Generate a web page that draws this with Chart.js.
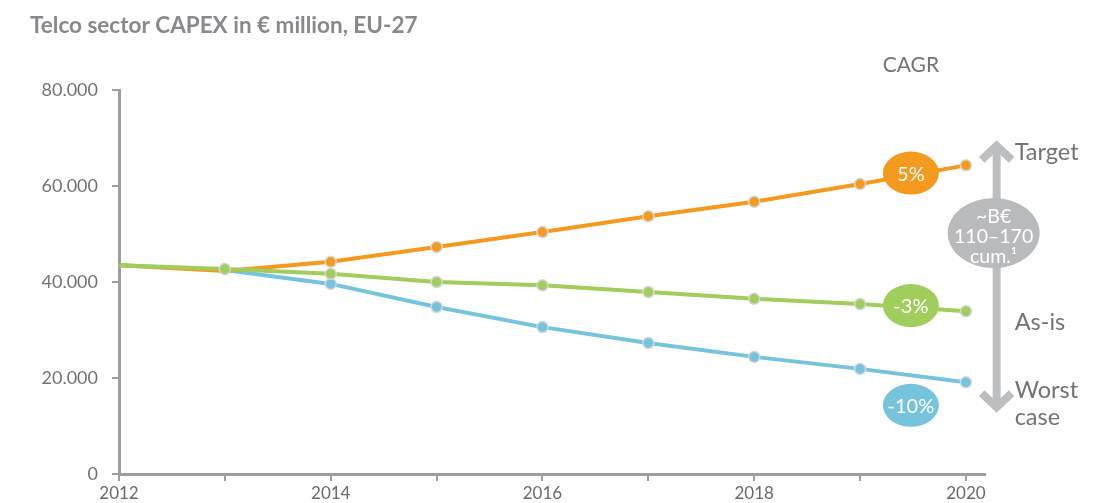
<!DOCTYPE html>
<html>
<head>
<meta charset="utf-8">
<script src="https://cdn.jsdelivr.net/npm/chart.js@4.4.0/dist/chart.umd.min.js"></script>
<style>
  html, body { margin: 0; padding: 0; background: #fff; }
  #wrap { width: 1119px; height: 503px; position: relative; }
</style>
</head>
<body>
<div id="wrap"><canvas id="capex"></canvas></div>
<script>
const years = [2012, 2013, 2014, 2015, 2016, 2017, 2018, 2019, 2020];
const targetCapex = [43500, 42300, 44200, 47300, 50400, 53700, 56700, 60400, 64300];
const asIsCapex = [43500, 42700, 41700, 40000, 39300, 37900, 36500, 35400, 33900];
const worstCapex = [43500, 42500, 39600, 34800, 30600, 27300, 24400, 21900, 19100];
const yTicks = [0, 20000, 40000, 60000, 80000];
const cagrLabels = ["5%", "-3%", "-10%"];
const scenarioLabels = ["Target", "As-is", "Worst", "case"];
const cumLabel = ["~B€", "110–170", "cum.¹"];

const ORANGE = "#f39a1f";
const GREEN = "#a0cd5c";
const BLUE = "#75c4dc";
const AXIS = "#9e9ea1";
const TEXT = "#737376";
const FONT = "Lato, 'Open Sans', sans-serif";

const toPoints = arr => years.map((yr, i) => ({ x: yr, y: arr[i] }));

// no markers on the shared start points
const radiusFrom = first => ctx => (ctx.dataIndex < first ? 0 : 5.5);

const lineSet = (label, arr, color, first) => ({
  label: label,
  data: toPoints(arr),
  borderColor: color,
  backgroundColor: color,
  borderWidth: 4,
  pointRadius: radiusFrom(first),
  pointBorderColor: "#d6d6d6",
  pointBorderWidth: 1.5,
  pointBackgroundColor: color,
  tension: 0,
  clip: false,
});

// value on a series at a fractional year
const valueAt = (arr, yr) => {
  const i = Math.min(Math.floor(yr - years[0]), arr.length - 2);
  const t = yr - years[i];
  return arr[i] + (arr[i + 1] - arr[i]) * t;
};

const annotations = {
  id: "annotations",
  afterDatasetsDraw(chart) {
    const { ctx } = chart;
    const xs = chart.scales.x;
    const ys = chart.scales.y;
    ctx.save();

    // title + CAGR header
    ctx.fillStyle = "#89898c";
    ctx.font = "bold 22.5px " + FONT;
    ctx.textBaseline = "middle";
    ctx.textAlign = "left";
    ctx.fillText("Telco sector CAPEX in € million, EU-27", 30, 26);

    ctx.fillStyle = TEXT;
    ctx.font = "21px " + FONT;
    ctx.textAlign = "center";
    ctx.fillText("CAGR", xs.getPixelForValue(2019.48), ys.getPixelForValue(85200));

    // CAGR badges
    const badgeYear = 2019.48;
    const badges = [
      { text: cagrLabels[0], color: ORANGE, y: ys.getPixelForValue(valueAt(targetCapex, badgeYear)) - 2 },
      { text: cagrLabels[1], color: GREEN, y: ys.getPixelForValue(valueAt(asIsCapex, badgeYear)) - 2 },
      { text: cagrLabels[2], color: BLUE, y: ys.getPixelForValue(valueAt(worstCapex, badgeYear)) + 30 },
    ];
    const bx = xs.getPixelForValue(badgeYear);
    badges.forEach(b => {
      ctx.fillStyle = b.color;
      ctx.beginPath();
      ctx.ellipse(bx, b.y, 28, 21.5, 0, 0, Math.PI * 2);
      ctx.fill();
      ctx.fillStyle = "#fff";
      ctx.font = "20px " + FONT;
      ctx.fillText(b.text, bx, b.y + 1);
    });

    // double arrow
    const ax = xs.getPixelForValue(2020.29);
    const top = ys.getPixelForValue(69000);
    const bot = ys.getPixelForValue(13300);
    ctx.strokeStyle = "#bdbec0";
    ctx.lineWidth = 8;
    ctx.lineJoin = "miter";
    ctx.beginPath();
    ctx.moveTo(ax, top + 5);
    ctx.lineTo(ax, bot - 5);
    ctx.stroke();
    ctx.beginPath();
    ctx.moveTo(ax - 15, top + 17);
    ctx.lineTo(ax, top + 3);
    ctx.lineTo(ax + 15, top + 17);
    ctx.stroke();
    ctx.beginPath();
    ctx.moveTo(ax - 15, bot - 17);
    ctx.lineTo(ax, bot - 3);
    ctx.lineTo(ax + 15, bot - 17);
    ctx.stroke();

    // cumulative gap bubble
    const cy = ys.getPixelForValue(50200);
    ctx.fillStyle = "#b9babc";
    ctx.beginPath();
    ctx.ellipse(ax - 3, cy, 46, 35, 0, 0, Math.PI * 2);
    ctx.fill();
    ctx.fillStyle = "#fff";
    ctx.font = "19.5px " + FONT;
    ctx.fillText(cumLabel[0], ax - 3, cy - 16);
    ctx.fillText(cumLabel[1], ax - 3, cy + 4);
    ctx.fillText(cumLabel[2], ax - 3, cy + 24);

    // scenario names
    const lx = xs.getPixelForValue(2020.46);
    ctx.fillStyle = TEXT;
    ctx.font = "23.5px " + FONT;
    ctx.textAlign = "left";
    ctx.fillText(scenarioLabels[0], lx, ys.getPixelForValue(66900));
    ctx.fillText(scenarioLabels[1], lx, ys.getPixelForValue(31500));
    ctx.fillText(scenarioLabels[2], lx, ys.getPixelForValue(17500));
    ctx.fillText(scenarioLabels[3], lx, ys.getPixelForValue(11700));

    ctx.restore();
  },
};

const ctx = document.getElementById("capex").getContext("2d");

new Chart(ctx, {
  type: "line",
  data: {
    datasets: [
      lineSet("As-is", asIsCapex, GREEN, 1),
      lineSet("Target", targetCapex, ORANGE, 2),
      lineSet("Worst case", worstCapex, BLUE, 2),
    ],
  },
  options: {
    responsive: true,
    maintainAspectRatio: false,
    animation: false,
    layout: {
      padding: { left: 8, right: 134, top: 90, bottom: 0 },
    },
    plugins: {
      legend: { display: false },
      title: { display: false },
      tooltip: { enabled: false },
    },
    scales: {
      x: {
        type: "linear",
        min: years[0],
        max: 2020.18,
        afterFit: s => {
          s.height = 29;
        },
        border: { color: AXIS, width: 3 },
        grid: { drawOnChartArea: false, color: AXIS, lineWidth: 2, tickLength: 7 },
        ticks: {
          stepSize: 1,
          includeBounds: false,
          autoSkip: false,
          maxRotation: 0,
          padding: 2,
          color: "#6a6a6d",
          font: { family: FONT, size: 17 },
          callback: v => (Number.isInteger(v) && v % 2 === 0 ? String(v) : ""),
        },
      },
      y: {
        min: yTicks[0],
        max: yTicks[yTicks.length - 1],
        afterFit: s => {
          s.width = 111;
        },
        afterBuildTicks: s => {
          s.ticks = yTicks.map(v => ({ value: v }));
        },
        border: { color: AXIS, width: 3 },
        grid: { drawOnChartArea: false, color: AXIS, lineWidth: 2, tickLength: 7 },
        ticks: {
          padding: 14,
          color: TEXT,
          font: { family: FONT, size: 18 },
          callback: v => (v === 0 ? "0" : v / 1000 + ".000"),
        },
      },
    },
  },
  plugins: [annotations],
});
</script>
</body>
</html>
